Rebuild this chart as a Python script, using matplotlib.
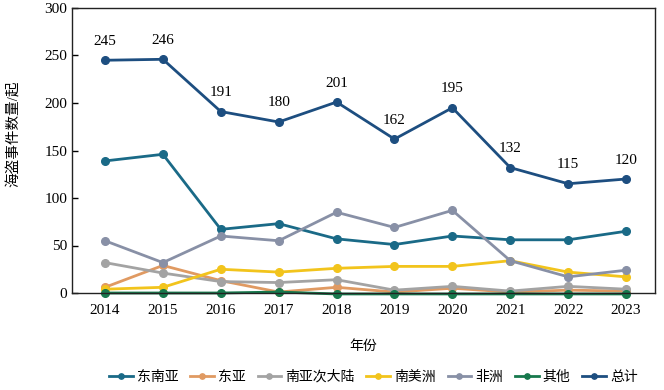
import matplotlib
matplotlib.use("Agg")
import matplotlib.pyplot as plt

plt.rcParams['font.family'] = ['Liberation Serif', 'Noto Sans CJK SC']

years = [2014, 2015, 2016, 2017, 2018, 2019, 2020, 2021, 2022, 2023]
se_asia = [139, 146, 67, 73, 57, 51, 60, 56, 56, 65]
e_asia = [6, 29, 13, 1, 6, 1, 5, 1, 3, 2]
s_asia = [32, 21, 12, 11, 14, 3, 7, 2, 7, 4]
s_america = [4, 6, 25, 22, 26, 28, 28, 34, 22, 17]
africa = [55, 32, 60, 55, 85, 69, 87, 34, 17, 24]
other = [0, 0, 0, 1, -1, -1, -1, -1, -1, -1]
total = [245, 246, 191, 180, 201, 162, 195, 132, 115, 120]

names = ['东南亚', '东亚', '南亚次大陆', '南美洲', '非洲', '其他', '总计']
series = [se_asia, e_asia, s_asia, s_america, africa, other, total]
colors = ['#1a6a87', '#e09a62', '#a3a3a3', '#f2c41c', '#8890a6', '#17794d', '#1d4e80']

fig = plt.figure(figsize=(6.64, 3.90), dpi=100)
ax = fig.add_axes([72/664, 1 - 293/390, (655-72)/664, (293-8)/390])

for name, vals, c in zip(names, series, colors):
    ax.plot(years, vals, color=c, marker='o', markersize=5.5, linewidth=2,
            label=name, clip_on=False)

for x, v in zip(years, total):
    ax.annotate(str(v), (x, v), xytext=(0, 9), textcoords='offset points',
                ha='center', va='bottom', fontsize=11)

ax.set_xlim(2013.43, 2023.5)
ax.set_ylim(0, 300)
ax.set_xticks(years)
ax.set_yticks(range(0, 301, 50))
ax.tick_params(axis='y', direction='in', length=4, labelsize=11, width=1)
ax.tick_params(axis='x', length=0, labelsize=11, pad=8)
for s in ax.spines.values():
    s.set_linewidth(1)
    s.set_color('#222222')

ax.set_xlabel('年份', fontsize=10)
ax.xaxis.set_label_coords(0.5, -0.165)
ax.set_ylabel('海盗事件数量/起', fontsize=10.5)
ax.yaxis.set_label_coords(-0.088, 0.56)

leg = ax.legend(loc='center', bbox_to_anchor=(0.517, -0.295), ncol=7,
                frameon=False, fontsize=10, handlelength=1.7, handletextpad=0.3,
                columnspacing=0.85, markerscale=0.7)

fig.savefig('out.png', dpi=100)
